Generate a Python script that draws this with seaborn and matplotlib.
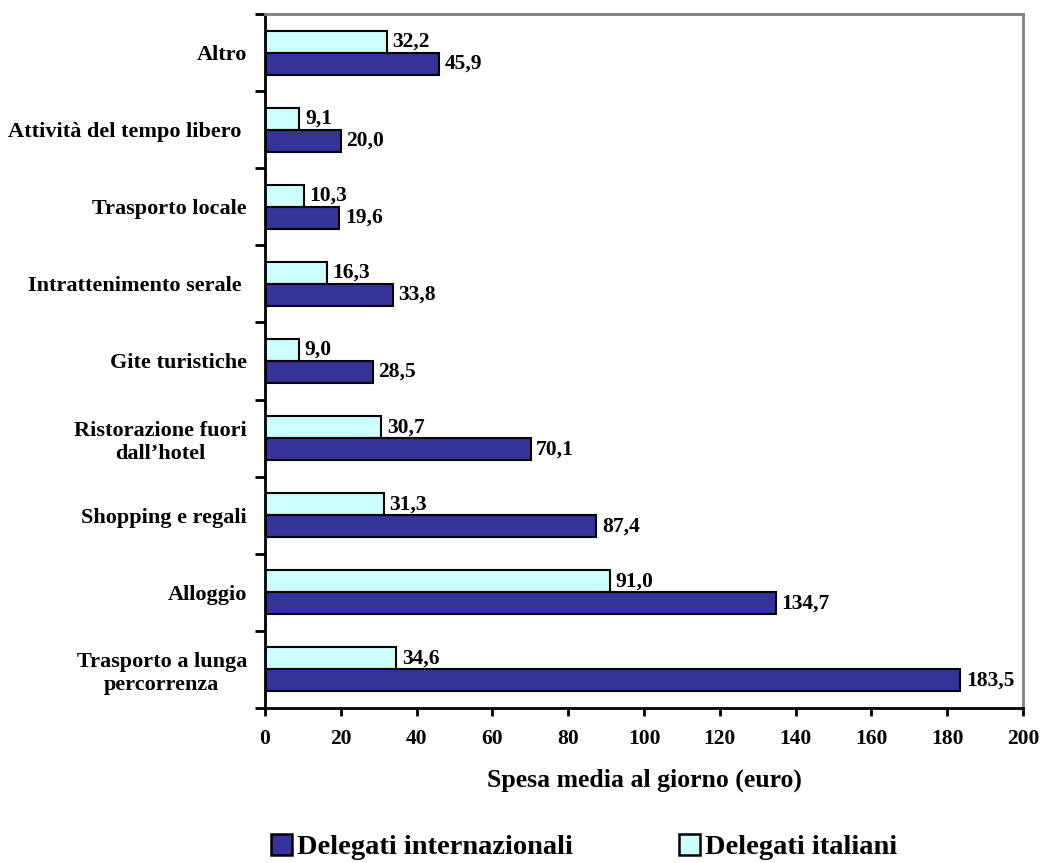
import matplotlib
matplotlib.use("Agg")
import matplotlib.pyplot as plt
import seaborn as sns
import pandas as pd
import numpy as np
from matplotlib.patches import Patch

categories = ["Altro", "Attività del tempo libero ", "Trasporto locale",
              "Intrattenimento serale ", "Gite turistiche",
              "Ristorazione fuori\ndall\u2019hotel", "Shopping e regali",
              "Alloggio", "Trasporto a lunga\npercorrenza"]
italiani = [32.2, 9.1, 10.3, 16.3, 9.0, 30.7, 31.3, 91.0, 34.6]
internazionali = [45.9, 20.0, 19.6, 33.8, 28.5, 70.1, 87.4, 134.7, 183.5]
series_names = ["Delegati italiani", "Delegati internazionali"]
x_ticks = [0, 20, 40, 60, 80, 100, 120, 140, 160, 180, 200]

df = pd.DataFrame({
    "cat": categories * 2,
    "val": italiani + internazionali,
    "serie": [series_names[0]] * len(categories) + [series_names[1]] * len(categories),
})

sns.set_style("white")
plt.rcParams["font.family"] = ["Liberation Serif", "DejaVu Serif"]
plt.rcParams["font.weight"] = "bold"
for k in ["text.color", "axes.labelcolor", "xtick.color", "ytick.color"]:
    plt.rcParams[k] = "black"

colors = {"Delegati italiani": "#CCFFFF", "Delegati internazionali": "#333399"}

fig = plt.figure(figsize=(10.43, 8.63), dpi=100)
ax = fig.add_axes([265 / 1043, 1 - 708 / 863, (1023 - 265) / 1043, (708 - 14) / 863])

sns.barplot(data=df, y="cat", x="val", hue="serie", hue_order=series_names,
            order=categories, palette=colors, orient="h", width=0.57,
            edgecolor="black", linewidth=1.5, ax=ax, legend=False, saturation=1)

for cont in ax.containers:
    ax.bar_label(cont, labels=[f"{v:.1f}".replace(".", ",") for v in cont.datavalues],
                 padding=4, fontsize=15.5, fontweight="bold", color="black")

ax.set_xlim(0, 200)
ax.set_ylim(len(categories) - 0.5, -0.5)
ax.set_xticks(x_ticks)
ax.set_xticklabels([str(t) for t in x_ticks], fontsize=15.5, fontweight="bold")
ax.set_xlabel("Spesa media al giorno (euro)", fontsize=18.5, fontweight="bold", labelpad=14)
ax.set_ylabel("")

# labels at centers (minor), tick marks at boundaries (major)
ax.set_yticks(np.arange(-0.5, len(categories), 1.0))
ax.set_yticklabels([])
ax.set_yticks(np.arange(len(categories)), minor=True)
ax.set_yticklabels(categories, minor=True, fontsize=16, fontweight="bold",
                   ha="right", multialignment="center")
ax.tick_params(axis="y", which="minor", left=False, length=0, pad=13)
ax.tick_params(axis="y", which="major", left=True, length=7, width=2, direction="out", color="black")
ax.tick_params(axis="x", which="major", bottom=True, length=6, width=2, direction="out",
               color="black", pad=9)

for s in ["left", "bottom"]:
    ax.spines[s].set_color("black")
    ax.spines[s].set_linewidth(2)
for s in ["top", "right"]:
    ax.spines[s].set_visible(True)
    ax.spines[s].set_color("#808080")
    ax.spines[s].set_linewidth(2)

handles = [Patch(facecolor=colors["Delegati internazionali"], edgecolor="black", linewidth=1.8),
           Patch(facecolor=colors["Delegati italiani"], edgecolor="black", linewidth=1.8)]
fig.legend(handles, ["Delegati internazionali", "Delegati italiani"],
           loc="center", bbox_to_anchor=(0.560, 1 - 847 / 863), ncol=2, frameon=False,
           prop={"family": "Liberation Serif", "weight": "bold", "size": 20.5},
           handlelength=0.74, handleheight=0.74, handletextpad=0.18, columnspacing=3.7,
           borderpad=0.1)

fig.savefig("out.png", dpi=100)
